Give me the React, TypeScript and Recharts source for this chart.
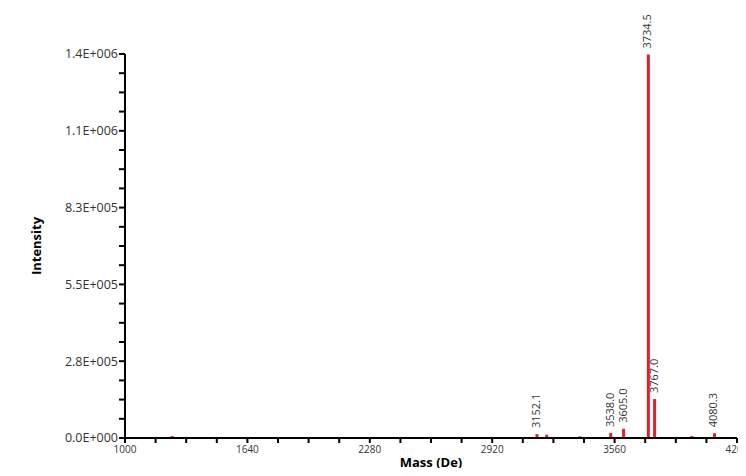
import { Bar, BarChart, LabelList, XAxis, YAxis } from "recharts";

const masses = [1245, 3152.1, 3203, 3377, 3538.0, 3605.0, 3734.5, 3767.0, 3962, 4080.3];
const intensities = [7000, 14000, 12000, 6000, 18000, 33000, 1378000, 140000, 7000, 17000];
const peakLabels = ["", "3152.1", "", "", "3538.0", "3605.0", "3734.5", "3767.0", "", "4080.3"];

const xTicks = Array.from({ length: 21 }, (_, i) => 1000 + i * 160);
const xLabelled = [1000, 1640, 2280, 2920, 3560, 4200];
const yMax = 1380000;
const yTicks = Array.from({ length: 21 }, (_, i) => (yMax / 20) * i);

const data = masses.map((m, i) => ({ mass: m, intensity: intensities[i], label: peakLabels[i] }));

const font = "'Open Sans', 'DejaVu Sans', sans-serif";

function sci(v: number) {
  if (v === 0) return "0.0E+000";
  const [m, e] = v.toExponential(1).split("e");
  const n = parseInt(e, 10);
  return m + "E" + (n < 0 ? "-" : "+") + String(Math.abs(n)).padStart(3, "0");
}

const PeakLabel = (props: any) => {
  const { x, y, width, value } = props;
  if (!value) return null;
  const cx = x + width / 2;
  const cy = y - 6;
  return (
    <text
      x={cx}
      y={cy}
      transform={`rotate(-90 ${cx} ${cy})`}
      textAnchor="start"
      dominantBaseline="middle"
      fontSize={11}
      fontFamily={font}
      fill="#333"
    >
      {value}
    </text>
  );
};

export default function App() {
  return (
    <div style={{ margin: -8, width: 746, height: 476, background: "#fff" }}>
      <BarChart width={746} height={476} data={data} margin={{ top: 54, right: 9, left: 0, bottom: 0 }}>
        <XAxis
          dataKey="mass"
          type="number"
          domain={[1000, 4200]}
          ticks={xTicks}
          interval={0}
          tickFormatter={(v) => (xLabelled.includes(v) ? String(v) : "")}
          height={38}
          axisLine={{ stroke: "#000", strokeWidth: 2 }}
          tickLine={{ stroke: "#000", strokeWidth: 2 }}
          tickSize={5}
          tickMargin={3}
          tick={{ fontSize: 10, fill: "#333", fontFamily: font }}
          label={{
            value: "Mass (De)",
            position: "center",
            dy: 5,
            fontSize: 13,
            fontWeight: "bold",
            fill: "#000",
            fontFamily: font,
          }}
        />
        <YAxis
          type="number"
          domain={[0, yMax]}
          ticks={yTicks}
          interval={0}
          tickFormatter={(v, i) => (i % 4 === 0 ? sci(v) : "")}
          width={125}
          axisLine={{ stroke: "#000", strokeWidth: 2 }}
          tickLine={{ stroke: "#000", strokeWidth: 2 }}
          tickSize={6}
          tickMargin={1}
          tick={{ fontSize: 12.5, fill: "#333", fontFamily: font }}
          label={{
            value: "Intensity",
            angle: -90,
            position: "center",
            dx: -26,
            fontSize: 13,
            fontWeight: "bold",
            fill: "#000",
            fontFamily: font,
          }}
        />
        <Bar dataKey="intensity" fill="#e41e2b" barSize={3} isAnimationActive={false}>
          <LabelList dataKey="label" content={PeakLabel} />
        </Bar>
      </BarChart>
    </div>
  );
}
